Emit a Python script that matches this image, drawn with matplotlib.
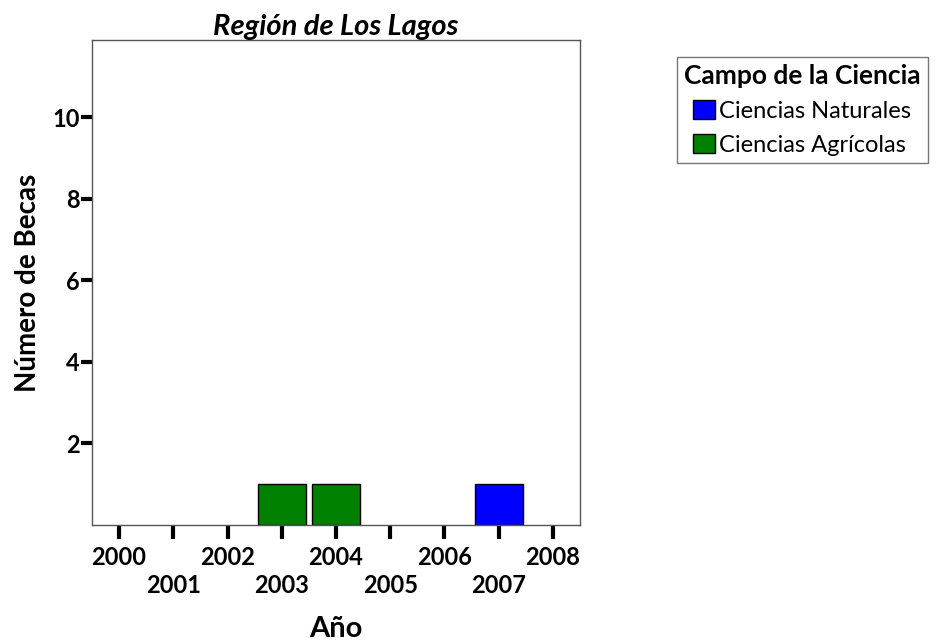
import matplotlib
matplotlib.use("Agg")
import matplotlib.pyplot as plt
from matplotlib.patches import Patch

plt.rcParams['font.family'] = ['Lato', 'DejaVu Sans']

years = [2000, 2001, 2002, 2003, 2004, 2005, 2006, 2007, 2008]
agricolas_years = [2003, 2004]
agricolas_vals = [1, 1]
naturales_years = [2007]
naturales_vals = [1]
yticks = [2, 4, 6, 8, 10]

fig = plt.figure(figsize=(9.37, 6.44), dpi=100)
ax = fig.add_axes([92/937, 1-525/644, (580-92)/937, (525-40)/644])

ax.bar(agricolas_years, agricolas_vals, width=0.88, color="#008000", edgecolor="black", linewidth=1)
ax.bar(naturales_years, naturales_vals, width=0.88, color="#0000ff", edgecolor="black", linewidth=1)

ax.set_xlim(1999.5, 2008.5)
ax.set_ylim(0, 11.9)
ax.set_xticks(years)
ax.set_xticklabels([str(y) if y % 2 == 0 else "\n" + str(y) for y in years], linespacing=1.25)
ax.set_yticks(yticks)
ax.tick_params(axis='x', length=10, width=3, labelsize=17, pad=5)
ax.tick_params(axis='y', length=8, width=3, labelsize=17, pad=1)
for lab in ax.get_xticklabels() + ax.get_yticklabels():
    lab.set_fontweight('bold')
for s in ax.spines.values():
    s.set_color("#555555")
    s.set_linewidth(1)

ax.set_title("Región de Los Lagos", fontsize=21, fontweight='bold', style='italic', pad=3)
ax.set_xlabel("Año", fontsize=21, fontweight='bold', labelpad=14)
ax.set_ylabel("Número de Becas", fontsize=20, fontweight='bold', labelpad=8)

handles = [Patch(facecolor="#0000ff", edgecolor="black", label="Ciencias Naturales"),
           Patch(facecolor="#008000", edgecolor="black", label="Ciencias Agrícolas")]
leg = fig.legend(handles=handles, title="Campo de la Ciencia", loc="upper left",
                 bbox_to_anchor=(677/937, 1-57/644), fontsize=17, title_fontproperties={'weight': 'bold', 'size': 19},
                 frameon=True, fancybox=False, handlelength=0.9, handleheight=0.9, handletextpad=0.2,
                 labelspacing=0.5, borderpad=0.3, borderaxespad=0, alignment='center')
leg.get_frame().set_edgecolor("#555555")
leg.get_frame().set_linewidth(1)

fig.savefig("out.png", dpi=100)
